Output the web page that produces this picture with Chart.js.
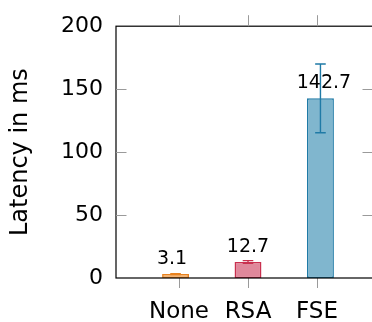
<!DOCTYPE html>
<html>
<head>
<meta charset="utf-8">
<script src="https://cdn.jsdelivr.net/npm/chart.js@4"></script>
<style>
  html, body { margin: 0; padding: 0; background: #fff; overflow: hidden; }
  #wrap { width: 376px; height: 322px; }
</style>
</head>
<body>
<div id="wrap"><canvas id="c" width="376" height="322"></canvas></div>
<script>
const categories = ['None', 'RSA', 'FSE'];
const latency = [3.1, 12.7, 142.7];
const errors = [0.4, 1.1, 27.3];
const yTickValues = [0, 50, 100, 150, 200];
const yTitle = 'Latency in ms';

const fills = ['#f4aa5e', '#e0889b', '#80b6ce'];
const borders = ['#e8821e', '#c9304f', '#1f7aa6'];
const FONT = 'DejaVu Sans';

const datasets = categories.map((c, i) => ({
  label: c,
  data: [{ x: i + 1, y: latency[i] }],
  backgroundColor: fills[i],
  borderColor: borders[i],
  borderWidth: 1.5,
  borderSkipped: false,
  categoryPercentage: 0.15,
  barPercentage: 7.8
}));

const extras = {
  id: 'extras',
  afterDatasetsDraw(chart) {
    const ctx = chart.ctx;
    const xs = chart.scales.x, ys = chart.scales.y;
    const a = chart.chartArea;
    ctx.save();
    chart.data.datasets.forEach((ds, i) => {
      const el = chart.getDatasetMeta(i).data[0];
      const x = el.x;
      const yTop = ys.getPixelForValue(latency[i] + errors[i]);
      const yBot = ys.getPixelForValue(latency[i] - errors[i]);
      ctx.strokeStyle = borders[i];
      ctx.lineWidth = 1.4;
      ctx.beginPath();
      ctx.moveTo(x, yTop); ctx.lineTo(x, yBot);
      ctx.moveTo(x - 5.3, yTop); ctx.lineTo(x + 5.3, yTop);
      ctx.moveTo(x - 5.3, yBot); ctx.lineTo(x + 5.3, yBot);
      ctx.stroke();
      const tickX = xs.getPixelForValue(i + 1);
      ctx.fillStyle = '#000';
      ctx.font = '19px "' + FONT + '"';
      ctx.textAlign = 'center';
      ctx.textBaseline = 'alphabetic';
      ctx.fillText(latency[i].toFixed(1), 2 * x - tickX, ys.getPixelForValue(latency[i]) - 10);
    });
    ctx.strokeStyle = '#000';
    ctx.lineWidth = 1.2;
    ctx.strokeRect(a.left, a.top, a.right - a.left, a.bottom - a.top);
    ctx.strokeStyle = '#9a9a9a';
    ctx.lineWidth = 1;
    ctx.beginPath();
    categories.forEach((c, i) => {
      const px = Math.round(xs.getPixelForValue(i + 1)) + 0.5;
      ctx.moveTo(px, a.top); ctx.lineTo(px, a.top - 11);
    });
    yTickValues.slice(1, -1).forEach(v => {
      const py = Math.round(ys.getPixelForValue(v)) + 0.5;
      ctx.moveTo(a.left, py); ctx.lineTo(a.left + 10.5, py);
      ctx.moveTo(a.right, py); ctx.lineTo(a.right - 10.5, py);
    });
    ctx.stroke();
    ctx.restore();
  }
};

new Chart(document.getElementById('c'), {
  type: 'bar',
  data: { datasets },
  plugins: [extras],
  options: {
    responsive: false,
    animation: false,
    devicePixelRatio: 1,
    layout: { padding: { top: 19, right: 3, left: 0, bottom: 0 } },
    plugins: { legend: { display: false }, tooltip: { enabled: false } },
    scales: {
      x: {
        type: 'linear',
        offset: false,
        min: 1 - 63 / 69,
        max: 1 + 194 / 69,
        afterBuildTicks(s) { s.ticks = categories.map((c, i) => ({ value: i + 1 })); },
        afterFit(s) { s.height = 44; },
        ticks: {
          callback: (v) => categories[v - 1] ?? '',
          color: '#000',
          font: { family: FONT, size: 23 },
          padding: 10,
          maxRotation: 0,
          autoSkip: false
        },
        grid: { display: true, offset: false, drawOnChartArea: false, drawTicks: true, tickLength: 10, color: '#9a9a9a' },
        border: { display: false }
      },
      y: {
        min: 0,
        max: 200,
        afterBuildTicks(s) { s.ticks = yTickValues.map(v => ({ value: v })); },
        afterFit(s) { s.width = 116; },
        ticks: {
          color: '#000',
          font: { family: FONT, size: 22 },
          padding: 13
        },
        grid: { display: false, drawTicks: false },
        border: { display: false },
        title: {
          display: true,
          text: yTitle,
          color: '#000',
          font: { family: FONT, size: 24 },
          padding: { top: 6, bottom: 0 }
        }
      }
    }
  }
});
</script>
</body>
</html>
